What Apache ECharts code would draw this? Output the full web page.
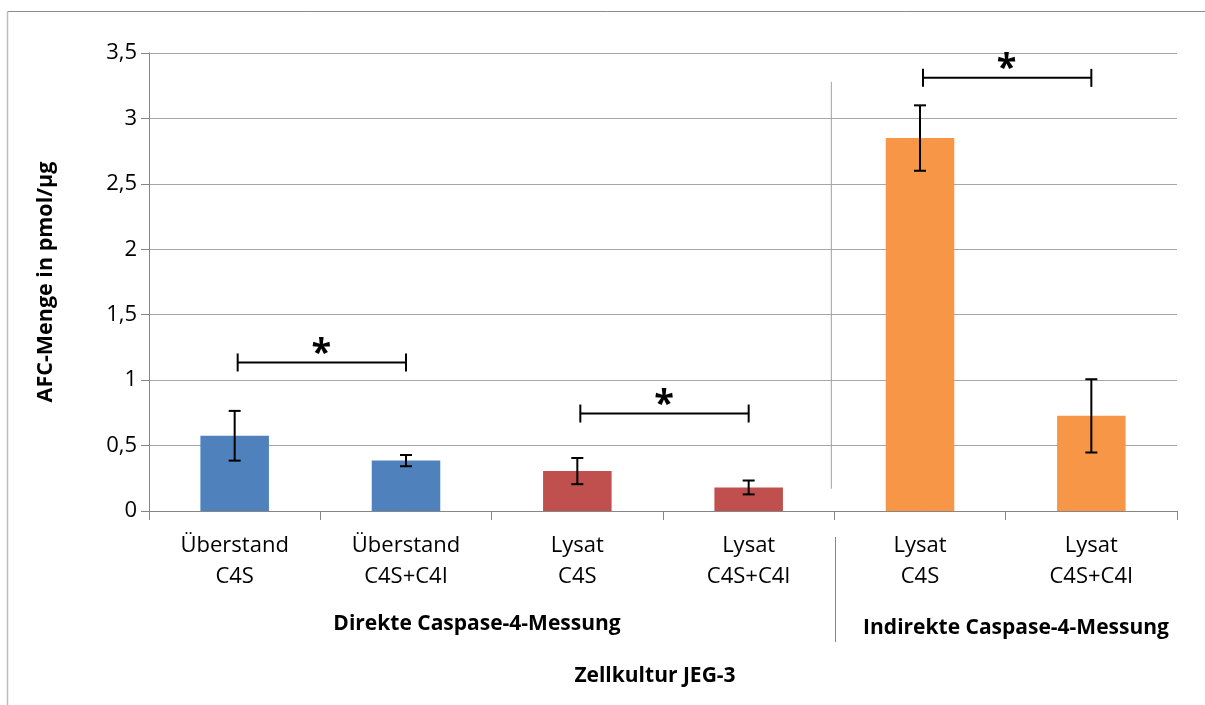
<!DOCTYPE html>
<html>
<head>
<meta charset="utf-8">
<script src="https://cdn.jsdelivr.net/npm/echarts@6/dist/echarts.min.js"></script>
<style>
html,body{margin:0;padding:0;background:#fff;}
#c{width:1205px;height:705px;}
</style>
</head>
<body>
<div id="c"></div>
<script>
// ---- data ----
var categories = ['Überstand\nC4S', 'Überstand\nC4S+C4I', 'Lysat\nC4S', 'Lysat\nC4S+C4I', 'Lysat\nC4S', 'Lysat\nC4S+C4I'];
var values = [0.575, 0.385, 0.305, 0.18, 2.85, 0.727];
var errors = [0.19, 0.043, 0.10, 0.053, 0.25, 0.28];
var barColors = ['#4F81BD', '#4F81BD', '#C0504D', '#C0504D', '#F79646', '#F79646'];
// significance brackets: [from category, to category, height]
var brackets = [[0, 1, 1.135], [2, 3, 0.745], [4, 5, 3.31]];
// separator between direct and indirect groups: [boundary after category index, from value, to value]
var separators = [[3, 0.17, 3.28]];
var yTicks = {min: 0, max: 3.5, interval: 0.5};
var groupLabels = ['Direkte Caspase-4-Messung', 'Indirekte Caspase-4-Messung'];
var xTitle = 'Zellkultur JEG-3';
var yTitle = 'AFC-Menge in pmol/µg';

var FONT = '"Open Sans"';

var chart = echarts.init(document.getElementById('c'), null, {renderer: 'canvas'});

var errData = values.map(function (v, i) { return [i, v - errors[i], v + errors[i]]; });

chart.setOption({
  animation: false,
  backgroundColor: '#fff',
  grid: {left: 149, right: 28, top: 53, bottom: 194, containLabel: false},
  xAxis: {
    type: 'category',
    data: categories,
    axisLine: {show: true, lineStyle: {color: '#868686', width: 1}},
    axisTick: {show: true, length: 9, lineStyle: {color: '#868686'}},
    axisLabel: {color: '#000', fontFamily: FONT, fontSize: 22, lineHeight: 31, margin: 19, interval: 0}
  },
  yAxis: {
    type: 'value',
    min: yTicks.min, max: yTicks.max, interval: yTicks.interval,
    axisLine: {show: true, lineStyle: {color: '#868686', width: 1}},
    axisTick: {show: true, length: 8, lineStyle: {color: '#868686'}},
    axisLabel: {color: '#000', fontFamily: FONT, fontSize: 22, margin: 12,
      formatter: function (v) { return String(v).replace('.', ','); }},
    splitLine: {show: true, lineStyle: {color: '#a6a6a6', width: 1}},
    name: yTitle, nameLocation: 'middle', nameGap: 92,
    nameTextStyle: {color: '#000', fontFamily: FONT, fontSize: 21.5, fontWeight: 'bold'}
  },
  series: [
    {
      type: 'bar',
      barWidth: '40%',
      data: values.map(function (v, i) { return {value: v, itemStyle: {color: barColors[i]}}; }),
      z: 2
    },
    {
      type: 'custom',
      z: 5,
      data: errData,
      renderItem: function (params, api) {
        var x = api.value(0);
        var lo = api.coord([x, api.value(1)]);
        var hi = api.coord([x, api.value(2)]);
        var cap = 6;
        var st = {stroke: '#000', lineWidth: 2};
        return {type: 'group', children: [
          {type: 'line', shape: {x1: lo[0], y1: lo[1], x2: hi[0], y2: hi[1]}, style: st},
          {type: 'line', shape: {x1: lo[0] - cap, y1: lo[1], x2: lo[0] + cap, y2: lo[1]}, style: st},
          {type: 'line', shape: {x1: hi[0] - cap, y1: hi[1], x2: hi[0] + cap, y2: hi[1]}, style: st}
        ]};
      }
    },
    {
      type: 'custom',
      z: 5,
      data: brackets,
      renderItem: function (params, api) {
        var a = api.coord([api.value(0), api.value(2)]);
        var b = api.coord([api.value(1), api.value(2)]);
        var h = 9;
        var st = {stroke: '#000', lineWidth: 2};
        return {type: 'group', children: [
          {type: 'line', shape: {x1: a[0] + 3, y1: a[1], x2: b[0], y2: b[1]}, style: st},
          {type: 'line', shape: {x1: a[0] + 3, y1: a[1] - h, x2: a[0] + 3, y2: a[1] + h}, style: st},
          {type: 'line', shape: {x1: b[0], y1: b[1] - h, x2: b[0], y2: b[1] + h}, style: st},
          {type: 'text', style: {text: '*', x: (a[0] + b[0]) / 2 + 1, y: a[1] - 9, fill: '#000',
            font: 'bold 36px ' + FONT, textAlign: 'center', textVerticalAlign: 'middle'}}
        ]};
      }
    },
    {
      type: 'custom',
      z: 3,
      data: separators,
      renderItem: function (params, api) {
        var c0 = api.coord([api.value(0), api.value(1)]);
        var c1 = api.coord([api.value(0), api.value(2)]);
        var bw = api.size([1, 0])[0];
        var x = c0[0] + bw / 2 - 3;
        return {type: 'line', shape: {x1: x, y1: c0[1], x2: x, y2: c1[1]},
          style: {stroke: '#a0a0a0', lineWidth: 1}};
      }
    }
  ],
  graphic: [
    {type: 'line', shape: {x1: 7.5, y1: 11.5, x2: 1205, y2: 11.5}, style: {stroke: '#8a8a8a', lineWidth: 1}},
    {type: 'line', shape: {x1: 7.5, y1: 11.5, x2: 7.5, y2: 705}, style: {stroke: '#bdbdbd', lineWidth: 1.5}},
    {type: 'line', shape: {x1: 835.5, y1: 537, x2: 835.5, y2: 642}, style: {stroke: '#868686', lineWidth: 1}},
    {type: 'text', x: 477, y: 624, style: {text: groupLabels[0], font: 'bold 21px ' + FONT, fill: '#000', textAlign: 'center', textVerticalAlign: 'middle'}},
    {type: 'text', x: 1016, y: 628, style: {text: groupLabels[1], font: 'bold 21px ' + FONT, fill: '#000', textAlign: 'center', textVerticalAlign: 'middle'}},
    {type: 'text', x: 655, y: 676, style: {text: xTitle, font: 'bold 21px ' + FONT, fill: '#000', textAlign: 'center', textVerticalAlign: 'middle'}}
  ]
});
</script>
</body>
</html>
